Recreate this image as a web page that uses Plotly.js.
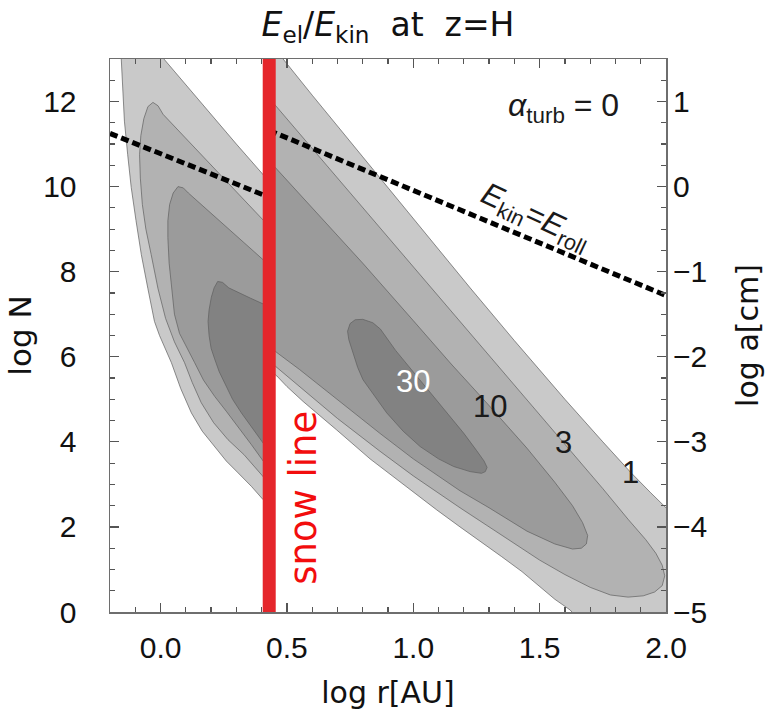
<!DOCTYPE html>
<html><head><meta charset="utf-8">
<script src="https://cdn.plot.ly/plotly-3.0.1.min.js"></script>
<style>html,body{margin:0;padding:0;background:#fff}</style>
</head><body><div id="chart" style="width:773px;height:716px"></div>
<script>
// ---- data ----
// contour levels of E_el/E_kin
const levels = [1, 3, 10, 30];

// region inside the snow line (x < snow line)
const leftL1X = [-0.158, -0.150, -0.143, -0.130, -0.116, -0.097, -0.076, -0.050, -0.024, -0.004, 0.043, 0.080, 0.122, 0.165, 0.214, 0.260, 0.307, 0.360, 0.406, 0.440, 0.440, 0.440, 0.300, 0.150, 0.009, -0.010];
const leftL1Y = [13.3, 12.4, 11.54, 10.75, 9.98, 9.2, 8.4, 7.6, 6.83, 6.5, 5.86, 5.25, 4.68, 4.25, 3.89, 3.55, 3.27, 2.95, 2.64, 2.45, 6.0, 10.05, 11.0, 12.05, 13.03, 13.3];
const leftL3X = [0.440, 0.406, 0.330, 0.267, 0.210, 0.161, 0.125, 0.095, 0.055, 0.020, -0.010, -0.037, -0.058, -0.072, -0.080, -0.083, -0.078, -0.066, -0.050, -0.030, -0.010, 0.010, 0.150, 0.300, 0.440];
const leftL3Y = [2.95, 3.18, 3.70, 4.05, 4.45, 4.92, 5.40, 5.86, 6.35, 6.90, 7.60, 8.40, 9.00, 9.58, 10.20, 10.75, 11.20, 11.60, 11.88, 11.98, 11.90, 11.70, 10.82, 9.88, 9.00];
const leftL10X = [0.440, 0.406, 0.360, 0.307, 0.260, 0.214, 0.170, 0.135, 0.100, 0.075, 0.055, 0.043, 0.034, 0.029, 0.029, 0.036, 0.050, 0.069, 0.090, 0.110, 0.220, 0.330, 0.440];
const leftL10Y = [3.30, 3.55, 3.93, 4.36, 4.72, 5.07, 5.45, 5.86, 6.25, 6.55, 7.00, 7.62, 8.20, 8.80, 9.20, 9.58, 9.85, 10.00, 9.97, 9.85, 9.27, 8.68, 8.10];
const leftL30X = [0.440, 0.406, 0.360, 0.320, 0.285, 0.254, 0.232, 0.214, 0.200, 0.192, 0.188, 0.192, 0.201, 0.212, 0.226, 0.245, 0.270, 0.355, 0.440];
const leftL30Y = [3.75, 3.97, 4.35, 4.68, 5.00, 5.38, 5.65, 5.95, 6.20, 6.50, 6.83, 7.10, 7.40, 7.62, 7.77, 7.75, 7.62, 7.38, 7.15];

// region outside the snow line
const rightL1X = [0.420, 0.420, 0.485, 0.600, 0.800, 1.000, 1.225, 1.400, 1.600, 1.750, 1.859, 1.940, 2.000, 2.050, 2.050, 1.660, 1.620, 1.560, 1.500, 1.430, 1.350, 1.270, 1.185, 1.093, 0.960, 0.829, 0.697, 0.564, 0.500, 0.460, 0.420];
const rightL1Y = [5.75, 13.30, 13.00, 12.15, 10.70, 9.25, 7.62, 6.38, 5.00, 4.00, 3.29, 2.80, 2.45, 2.10, -0.20, -0.20, 0.05, 0.30, 0.60, 0.95, 1.30, 1.65, 2.00, 2.40, 3.00, 3.60, 4.28, 4.95, 5.30, 5.55, 5.75];
const rightL3X = [0.420, 0.600, 0.800, 1.000, 1.225, 1.400, 1.594, 1.750, 1.850, 1.920, 1.960, 1.985, 1.995, 1.985, 1.955, 1.910, 1.850, 1.780, 1.700, 1.600, 1.500, 1.350, 1.185, 1.000, 0.868, 0.700, 0.550, 0.460, 0.420];
const rightL3Y = [12.15, 10.90, 9.50, 8.12, 6.56, 5.33, 3.98, 2.90, 2.18, 1.70, 1.38, 1.10, 0.85, 0.62, 0.47, 0.38, 0.35, 0.40, 0.58, 0.88, 1.22, 1.80, 2.45, 3.20, 3.78, 4.55, 5.30, 5.75, 5.95];
const rightL10X = [0.420, 0.600, 0.800, 1.000, 1.150, 1.305, 1.450, 1.560, 1.630, 1.670, 1.690, 1.685, 1.665, 1.630, 1.560, 1.450, 1.300, 1.185, 1.000, 0.868, 0.700, 0.550, 0.460, 0.420];
const rightL10Y = [10.67, 9.50, 8.20, 6.85, 5.83, 4.82, 3.85, 3.05, 2.50, 2.10, 1.80, 1.60, 1.50, 1.48, 1.60, 1.90, 2.45, 2.85, 3.60, 4.20, 5.00, 5.70, 6.10, 6.30];
const rightL30X = [0.740, 0.750, 0.770, 0.800, 0.840, 0.870, 0.930, 1.000, 1.070, 1.133, 1.200, 1.250, 1.280, 1.292, 1.285, 1.270, 1.225, 1.160, 1.100, 1.027, 0.960, 0.895, 0.850, 0.801, 0.780, 0.760, 0.745, 0.740];
const rightL30Y = [6.60, 6.78, 6.87, 6.88, 6.80, 6.65, 6.15, 5.65, 5.15, 4.70, 4.20, 3.80, 3.55, 3.40, 3.30, 3.26, 3.30, 3.42, 3.60, 3.89, 4.25, 4.68, 5.05, 5.46, 5.75, 6.10, 6.40, 6.60];

// E_kin = E_roll line (two pieces, jump at snow line)
const rollLeftX = [-0.2, 0.43];
const rollLeftY = [11.25, 9.75];
const rollRightX = [0.43, 2.0];
const rollRightY = [11.32, 7.44];

// snow line position
const snowX = [0.43, 0.43];
const snowY = [-0.2, 13.2];

// contour labels
const labelText = ['30', '10', '3', '1'];
const labelX = [0.999, 1.305, 1.594, 1.859];
const labelY = [5.41, 4.82, 3.98, 3.29];

// axis ticks
const xTicks = [0, 0.5, 1.0, 1.5, 2.0];
const yTicks = [0, 2, 4, 6, 8, 10, 12];
const aTicks = [-5, -4, -3, -2, -1, 0, 1];

// ---- styling ----
const fills = ['#c9c9c9', '#b2b2b2', '#9b9b9b', '#828282'];
const edge = 'rgba(95,95,95,0.7)';

function poly(x, y, i) {
  return {type: 'scatter', mode: 'lines', x: x, y: y, fill: 'toself',
    fillcolor: fills[i], line: {color: edge, width: 1}, hoverinfo: 'skip', showlegend: false};
}

const traces = [
  poly(leftL1X, leftL1Y, 0), poly(leftL3X, leftL3Y, 1), poly(leftL10X, leftL10Y, 2), poly(leftL30X, leftL30Y, 3),
  poly(rightL1X, rightL1Y, 0), poly(rightL3X, rightL3Y, 1), poly(rightL10X, rightL10Y, 2), poly(rightL30X, rightL30Y, 3),
  {type: 'scatter', mode: 'lines', x: rollLeftX, y: rollLeftY, line: {color: '#000', width: 5, dash: '8px,4px'}, hoverinfo: 'skip', showlegend: false},
  {type: 'scatter', mode: 'lines', x: rollRightX, y: rollRightY, line: {color: '#000', width: 5, dash: '8px,4px'}, hoverinfo: 'skip', showlegend: false},
  {type: 'scatter', mode: 'lines', x: snowX, y: snowY, line: {color: '#e5262b', width: 13}, hoverinfo: 'skip', showlegend: false},
  {type: 'scatter', mode: 'markers', x: [], y: [], yaxis: 'y2', hoverinfo: 'skip', showlegend: false}
];

const font = 'Liberation Sans, Arial, sans-serif';
const wide = 'DejaVu Sans, sans-serif';
const ann = [];
labelText.forEach((t, i) => ann.push({x: labelX[i], y: labelY[i], xref: 'x', yref: 'y', text: t, showarrow: false,
  font: {family: font, size: 31, color: i === 0 ? '#ffffff' : '#1a1a1a'}}));
ann.push({x: 1.593, y: 11.86, xref: 'x', yref: 'y', showarrow: false,
  text: '<i>α</i><sub>turb</sub> = 0', font: {family: font, size: 32, color: '#1a1a1a'}});
ann.push({x: 1.482, y: 9.26, xref: 'x', yref: 'y', showarrow: false, textangle: 25,
  text: '<i>E</i><sub>kin</sub>=<i>E</i><sub>roll</sub>', font: {family: font, size: 31, color: '#1a1a1a'}});
ann.push({x: 0.563, y: 2.68, xref: 'x', yref: 'y', showarrow: false, textangle: -90,
  text: 'snow line', font: {family: wide, size: 37, color: '#f20d0d'}});

const axCommon = {showgrid: false, zeroline: false, showline: true, linecolor: '#6e6e6e', linewidth: 1.5,
  ticks: 'inside', ticklen: 9, tickwidth: 1.2, tickcolor: '#555',
  tickfont: {family: font, size: 30, color: '#111'}};

const layout = {
  width: 773, height: 716,
  margin: {l: 110, r: 107, t: 59, b: 104},
  paper_bgcolor: '#fff', plot_bgcolor: '#fff',
  font: {family: font, color: '#111'},
  showlegend: false,
  title: {text: '<i>E</i><sub>el</sub>/<i>E</i><sub>kin</sub>  at  z=H', x: 0.5, xref: 'paper',
    y: 0.966, yref: 'container', yanchor: 'middle', font: {family: wide, size: 33, color: '#111'}},
  xaxis: Object.assign({}, axCommon, {range: [-0.2, 2.0], tickvals: xTicks, tickformat: '.1f', mirror: 'ticks',
    ticklabelstandoff: 8,
    minor: {dtick: 0.1, tick0: 0, ticks: 'inside', ticklen: 5, tickcolor: '#555', showgrid: false},
    title: {text: 'log r[AU]', font: {family: wide, size: 30, color: '#111'}, standoff: 19}}),
  yaxis: Object.assign({}, axCommon, {range: [0, 13], tickvals: yTicks, mirror: true,
    ticklabelstandoff: 26,
    minor: {dtick: 0.5, tick0: 0, ticks: 'inside', ticklen: 5, tickcolor: '#555', showgrid: false},
    title: {text: 'log N', font: {family: wide, size: 31, color: '#111'}, standoff: 2}}),
  yaxis2: Object.assign({}, axCommon, {range: [-5, 1.5], tickvals: aTicks, overlaying: 'y', side: 'right', anchor: 'x',
    showline: false, ticklabelstandoff: 6,
    minor: {dtick: 0.25, tick0: 0, ticks: 'inside', ticklen: 5, tickcolor: '#555', showgrid: false},
    title: {text: 'log a[cm]', font: {family: wide, size: 30, color: '#111'}, standoff: 30}}),
  annotations: ann
};

Plotly.newPlot('chart', traces, layout, {displayModeBar: false, staticPlot: true});
</script></body></html>
